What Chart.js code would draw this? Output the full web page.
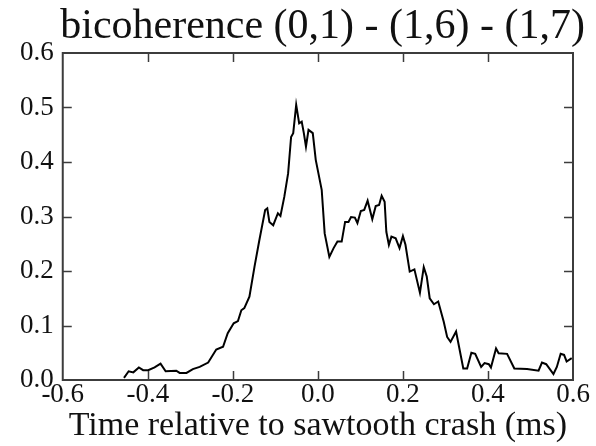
<!DOCTYPE html>
<html>
<head>
<meta charset="utf-8">
<script src="https://cdn.jsdelivr.net/npm/chart.js@4.4.1/dist/chart.umd.min.js"></script>
<style>
  html, body { margin: 0; padding: 0; background: #ffffff; }
  #wrap { width: 596px; height: 446px; position: relative; }
</style>
</head>
<body>
<div id="wrap"><canvas id="c" width="596" height="446"></canvas></div>
<script>
// ---- data ----
const titleText = "bicoherence (0,1) - (1,6) - (1,7)";
const xAxisTitle = "Time relative to sawtooth crash (ms)";
const xTickValues = [-0.6, -0.4, -0.2, 0.0, 0.2, 0.4, 0.6];
const yTickValues = [0.0, 0.1, 0.2, 0.3, 0.4, 0.5, 0.6];

const timeMs = [
  -0.456, -0.445, -0.434, -0.421, -0.411, -0.399, -0.384, -0.370, -0.358, -0.333,
  -0.325, -0.309, -0.294, -0.278, -0.258, -0.239, -0.223, -0.212, -0.198, -0.188,
  -0.180, -0.173, -0.161, -0.149, -0.138, -0.124, -0.119, -0.114, -0.105, -0.094,
  -0.088, -0.079, -0.070, -0.063, -0.058, -0.051, -0.044, -0.038, -0.033, -0.028,
  -0.022, -0.012, -0.005, 0.009, 0.016, 0.027, 0.037, 0.046, 0.056, 0.064,
  0.072, 0.078, 0.087, 0.093, 0.101, 0.109, 0.117, 0.128, 0.136, 0.144,
  0.150, 0.157, 0.161, 0.167, 0.173, 0.183, 0.192, 0.200, 0.206, 0.216,
  0.227, 0.240, 0.249, 0.256, 0.263, 0.273, 0.283, 0.296, 0.304, 0.312,
  0.325, 0.342, 0.351, 0.361, 0.370, 0.384, 0.392, 0.402, 0.407, 0.419,
  0.425, 0.445, 0.462, 0.492, 0.519, 0.527, 0.537, 0.554, 0.562, 0.571,
  0.579, 0.585, 0.597
];
const bicoherence = [
  0.004, 0.016, 0.014, 0.023, 0.018, 0.018, 0.023, 0.030, 0.016, 0.017,
  0.013, 0.013, 0.020, 0.024, 0.032, 0.056, 0.061, 0.086, 0.104, 0.108,
  0.128, 0.132, 0.153, 0.208, 0.255, 0.312, 0.315, 0.290, 0.284, 0.306,
  0.301, 0.336, 0.379, 0.446, 0.453, 0.505, 0.471, 0.474, 0.453, 0.428,
  0.459, 0.453, 0.404, 0.349, 0.269, 0.226, 0.242, 0.254, 0.254, 0.290,
  0.290, 0.299, 0.298, 0.288, 0.310, 0.312, 0.329, 0.295, 0.319, 0.321,
  0.338, 0.327, 0.272, 0.248, 0.263, 0.260, 0.242, 0.264, 0.248, 0.199,
  0.203, 0.160, 0.207, 0.190, 0.150, 0.139, 0.144, 0.107, 0.079, 0.070,
  0.089, 0.021, 0.021, 0.050, 0.048, 0.024, 0.031, 0.029, 0.023, 0.058,
  0.049, 0.048, 0.021, 0.020, 0.017, 0.032, 0.029, 0.011, 0.024, 0.048,
  0.046, 0.034, 0.040
];

const points = timeMs.map((t, i) => ({ x: t, y: bicoherence[i] }));

const SERIF = "'Liberation Serif', 'Times New Roman', serif";
const FRAME = '#3c3c3c';
const TEXT = '#111111';

function fmt(v) {
  const n = Math.abs(v) < 1e-9 ? 0 : v;
  return n.toFixed(1);
}

// Frame with inward tick marks on all four sides, placed through the scales
const framePlugin = {
  id: 'frame',
  afterDatasetsDraw(chart) {
    const { ctx, chartArea: a, scales } = chart;
    const len = 9;
    ctx.save();
    ctx.strokeStyle = FRAME;
    ctx.lineWidth = 2;
    ctx.strokeRect(a.left, a.top, a.right - a.left, a.bottom - a.top);
    ctx.lineWidth = 1.5;
    ctx.beginPath();
    xTickValues.forEach(v => {
      const px = Math.round(scales.x.getPixelForValue(v)) + 0.5;
      if (px <= a.left + 2 || px >= a.right - 2) return;
      ctx.moveTo(px, a.bottom); ctx.lineTo(px, a.bottom - len);
      ctx.moveTo(px, a.top); ctx.lineTo(px, a.top + len);
    });
    yTickValues.forEach(v => {
      const py = Math.round(scales.y.getPixelForValue(v)) + 0.5;
      if (py <= a.top + 2 || py >= a.bottom - 2) return;
      ctx.moveTo(a.left, py); ctx.lineTo(a.left + len, py);
      ctx.moveTo(a.right, py); ctx.lineTo(a.right - len, py);
    });
    ctx.stroke();
    ctx.restore();
  }
};

new Chart(document.getElementById('c'), {
  type: 'line',
  data: {
    datasets: [{
      data: points,
      borderColor: '#000000',
      borderWidth: 2,
      pointRadius: 0,
      tension: 0,
      fill: false
    }]
  },
  options: {
    responsive: false,
    animation: false,
    devicePixelRatio: 1,
    layout: { padding: { left: 11, right: 11, top: 0, bottom: 0 } },
    plugins: {
      legend: { display: false },
      tooltip: { enabled: false },
      title: {
        display: true,
        text: titleText,
        align: 'end',
        color: TEXT,
        font: { family: SERIF, size: 42, weight: 'normal', lineHeight: 1.0 },
        padding: { top: 6, bottom: 5 }
      }
    },
    scales: {
      x: {
        type: 'linear',
        min: -0.6,
        max: 0.6,
        afterBuildTicks: (s) => { s.ticks = xTickValues.map(v => ({ value: v })); },
        grid: { display: false, drawTicks: false },
        border: { display: false },
        ticks: {
          autoSkip: false,
          maxRotation: 0,
          padding: 1,
          color: TEXT,
          font: { family: SERIF, size: 27, lineHeight: 1.0 },
          callback: (v) => fmt(v)
        },
        title: {
          display: true,
          text: xAxisTitle,
          color: TEXT,
          font: { family: SERIF, size: 34, lineHeight: 1.0 },
          padding: { top: 0, bottom: 3 }
        }
      },
      y: {
        type: 'linear',
        min: 0,
        max: 0.6,
        afterBuildTicks: (s) => { s.ticks = yTickValues.map(v => ({ value: v })); },
        grid: { display: false, drawTicks: false },
        border: { display: false },
        ticks: {
          autoSkip: false,
          padding: 9,
          color: TEXT,
          font: { family: SERIF, size: 27, lineHeight: 1.0 },
          callback: (v) => fmt(v)
        }
      },
      y2: {
        type: 'linear',
        position: 'right',
        display: true,
        grid: { display: true, drawOnChartArea: false, drawTicks: true, tickLength: 12, color: 'rgba(0,0,0,0)' },
        border: { display: false },
        ticks: { display: false }
      }
    }
  },
  plugins: [framePlugin]
});
</script>
</body>
</html>
